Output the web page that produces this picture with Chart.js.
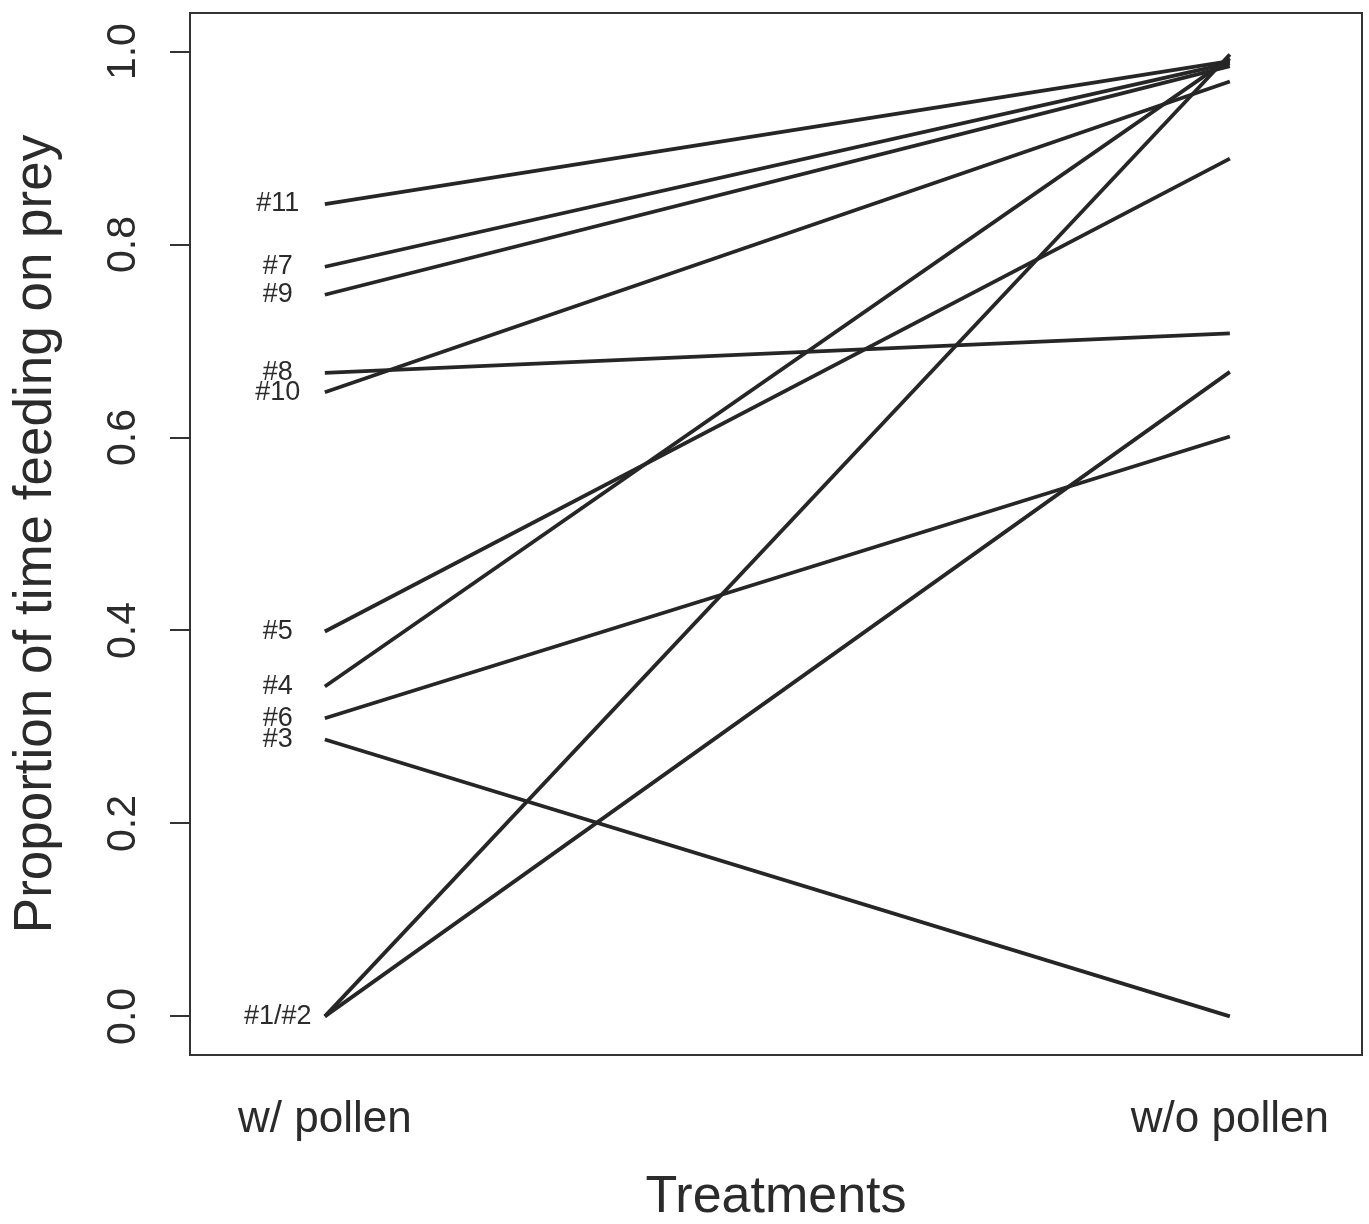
<!DOCTYPE html>
<html>
<head>
<meta charset="utf-8">
<script src="https://cdn.jsdelivr.net/npm/chart.js@4/dist/chart.umd.min.js"></script>
<style>
html,body{margin:0;padding:0;background:#fff;}
#wrap{width:1369px;height:1224px;}
</style>
</head>
<body>
<div id="wrap"><canvas id="preyChart"></canvas></div>
<script>
// ---- data ----
const treatments = ["w/ pollen", "w/o pollen"];
const individuals = ["#1","#2","#3","#4","#5","#6","#7","#8","#9","#10","#11"];
const withPollen    = [0.000, 0.000, 0.287, 0.342, 0.399, 0.309, 0.777, 0.667, 0.748, 0.647, 0.842];
const withoutPollen = [0.997, 0.668, 0.000, 0.993, 0.889, 0.601, 0.988, 0.708, 0.985, 0.969, 0.990];
const yTicks = [0, 0.2, 0.4, 0.6, 0.8, 1.0];
// labels shown beside the left end (#1 and #2 share one)
const pointLabels = ["#1/#2","","#3","#4","#5","#6","#7","#8","#9","#10","#11"];

const FONT = "'Liberation Sans', Arial, Helvetica, sans-serif";
const INK = "#262626";

Chart.defaults.font.family = FONT;
Chart.defaults.color = "#2b2b2b";

const datasets = individuals.map((id, i) => ({
  label: id,
  data: [{x: 1, y: withPollen[i]}, {x: 2, y: withoutPollen[i]}],
  borderColor: INK,
  borderWidth: 3.8,
  pointRadius: 0,
  fill: false,
  tension: 0
}));

// box round the plot + the #n labels
const boxAndLabels = {
  id: "boxAndLabels",
  afterDatasetsDraw(chart) {
    const {ctx, chartArea: a, scales: {x, y}} = chart;
    ctx.save();
    ctx.strokeStyle = "#333";
    ctx.lineWidth = 2;
    ctx.strokeRect(a.left, a.top, a.right - a.left, a.bottom - a.top);

    ctx.fillStyle = "#2b2b2b";
    ctx.font = "27px " + FONT;
    ctx.textAlign = "center";
    ctx.textBaseline = "middle";
    pointLabels.forEach((txt, i) => {
      if (!txt) return;
      ctx.fillText(txt, x.getPixelForValue(1) - 47, y.getPixelForValue(withPollen[i]));
    });
    ctx.restore();
  }
};

new Chart(document.getElementById("preyChart"), {
  type: "line",
  data: {datasets},
  plugins: [boxAndLabels],
  options: {
    responsive: true,
    maintainAspectRatio: false,
    animation: false,
    layout: {padding: {top: 13, right: 7, left: 0, bottom: 0}},
    plugins: {legend: {display: false}, tooltip: {enabled: false}},
    scales: {
      x: {
        type: "linear",
        min: 0.851,
        max: 2.146,
        grid: {display: false, drawTicks: false},
        border: {display: false},
        afterBuildTicks: s => { s.ticks = [{value: 1}, {value: 2}]; },
        afterFit: s => { s.height = 169; s.paddingLeft = 0; s.paddingRight = 0; },
        ticks: {
          maxRotation: 0,
          autoSkip: false,
          padding: 38,
          font: {size: 44},
          callback: v => treatments[v - 1]
        },
        title: {
          display: true,
          text: "Treatments",
          font: {size: 52, lineHeight: 1},
          padding: {top: 0, bottom: 0}
        }
      },
      y: {
        type: "linear",
        min: -0.04,
        max: 1.04,
        grid: {display: true, drawOnChartArea: false, drawTicks: true, tickLength: 20, color: "#333", lineWidth: 2},
        border: {display: false},
        afterBuildTicks: s => { s.ticks = yTicks.map(v => ({value: v})); },
        afterFit: s => { s.width = 190; s.paddingTop = 0; s.paddingBottom = 0; },
        ticks: {
          minRotation: 90,
          maxRotation: 90,
          crossAlign: "center",
          padding: 18,
          font: {size: 41},
          callback: v => v.toFixed(1)
        },
        title: {
          display: true,
          text: "Proportion of time feeding on prey",
          font: {size: 53, lineHeight: 1},
          padding: {top: 10, bottom: 0}
        }
      }
    }
  }
});
</script>
</body>
</html>
